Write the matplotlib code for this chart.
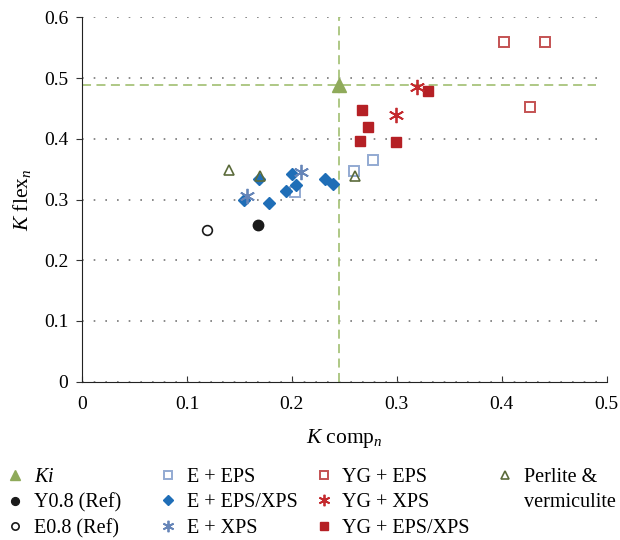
import matplotlib
matplotlib.use("Agg")
import matplotlib.pyplot as plt
from matplotlib.lines import Line2D

plt.rcParams['font.family'] = ['Liberation Serif', 'DejaVu Serif']
plt.rcParams['mathtext.fontset'] = 'custom'
plt.rcParams['mathtext.rm'] = 'Liberation Serif'
plt.rcParams['mathtext.it'] = 'Liberation Serif:italic'

# ---- data ----
ki_x = [0.245]
ki_y = [0.489]
y08_x = [0.168]
y08_y = [0.258]
e08_x = [0.119]
e08_y = [0.249]
e_eps_x = [0.203, 0.259, 0.277]
e_eps_y = [0.312, 0.347, 0.365]
e_epsxps_x = [0.154, 0.169, 0.178, 0.194, 0.200, 0.204, 0.232, 0.239]
e_epsxps_y = [0.299, 0.333, 0.295, 0.314, 0.342, 0.324, 0.334, 0.325]
e_xps_x = [0.157, 0.209]
e_xps_y = [0.305, 0.345]
yg_eps_x = [0.402, 0.441, 0.427]
yg_eps_y = [0.560, 0.560, 0.452]
yg_xps_x = [0.319, 0.299]
yg_xps_y = [0.485, 0.439]
yg_epsxps_x = [0.267, 0.273, 0.265, 0.299, 0.330]
yg_epsxps_y = [0.447, 0.419, 0.396, 0.394, 0.478]
perl_x = [0.140, 0.170, 0.260]
perl_y = [0.349, 0.339, 0.339]

x_ticks = [0, 0.1, 0.2, 0.3, 0.4, 0.5]
x_ticklabels = ['0', '0.1', '0.2', '0.3', '0.4', '0.5']
y_ticks = [0, 0.1, 0.2, 0.3, 0.4, 0.5, 0.6]
y_ticklabels = ['0', '0.1', '0.2', '0.3', '0.4', '0.5', '0.6']

fig = plt.figure(figsize=(6.2, 5.4), dpi=100)
ax = fig.add_axes([0.1323, 0.2931, 0.8462, 0.6749])

green = '#8FAA5A'
gline = '#A8C47C'
ax.axvline(ki_x[0], color=gline, lw=1.3, ls=(0, (5, 3)), zorder=1)
ax.plot([0, 0.49], [ki_y[0], ki_y[0]], color=gline, lw=1.3, ls=(0, (5, 3)), zorder=1)

handles = []
h = ax.plot(ki_x, ki_y, ls='none', marker='^', ms=10, color=green, mec=green, label='$Ki$', zorder=5)[0]; handles.append(h)
h = ax.plot(y08_x, y08_y, ls='none', marker='o', ms=7.5, color='#1a1a1a', label='Y0.8 (Ref)', zorder=5)[0]; handles.append(h)
h = ax.plot(e08_x, e08_y, ls='none', marker='o', ms=7, mfc='white', mec='#1a1a1a', mew=1.2, label='E0.8 (Ref)', zorder=5)[0]; handles.append(h)
h = ax.plot(e_eps_x, e_eps_y, ls='none', marker='s', ms=7.5, mfc='none', mec='#93AAD2', mew=1.4, label='E + EPS', zorder=4)[0]; handles.append(h)
h = ax.plot(e_epsxps_x, e_epsxps_y, ls='none', marker='D', ms=6.5, color='#1F6EB7', label='E + EPS/XPS', zorder=4)[0]; handles.append(h)
h = ax.plot(e_xps_x, e_xps_y, ls='none', marker=(6, 2, 0), ms=11, mec='#6685B8', mew=1.3, label='E + XPS', zorder=5)[0]; handles.append(h)
h = ax.plot(yg_eps_x, yg_eps_y, ls='none', marker='s', ms=7.5, mfc='none', mec='#C45253', mew=1.4, label='YG + EPS', zorder=4)[0]; handles.append(h)
h = ax.plot(yg_xps_x, yg_xps_y, ls='none', marker=(6, 2, 0), ms=11, mec='#C42A2E', mew=1.3, label='YG + XPS', zorder=5)[0]; handles.append(h)
h = ax.plot(yg_epsxps_x, yg_epsxps_y, ls='none', marker='s', ms=7, color='#B52025', label='YG + EPS/XPS', zorder=4)[0]; handles.append(h)
h = ax.plot(perl_x, perl_y, ls='none', marker='^', ms=7.5, mfc='none', mec='#5B6B3B', mew=1.2, label='Perlite &', zorder=6)[0]; handles.append(h)

ax.set_xlim(0, 0.5)
ax.set_ylim(0, 0.6)
ax.set_xticks(x_ticks)
ax.set_xticklabels(x_ticklabels)
ax.set_yticks(y_ticks)
ax.set_yticklabels(y_ticklabels)
ax.tick_params(axis='x', direction='in', length=4, labelsize=14, pad=10, color='#333333')
ax.tick_params(axis='y', direction='out', length=4, labelsize=14, pad=6, color='#333333')
ax.spines['top'].set_visible(False)
ax.spines['right'].set_visible(False)
ax.spines['left'].set_color('#222222')
ax.spines['bottom'].set_color('#222222')
ax.yaxis.grid(True, color='#777777', ls=(0, (1, 6)), lw=1.2)
ax.set_axisbelow(True)

ax.set_xlabel('$K$ comp$_n$', fontsize=15.5, labelpad=10)
ax.set_ylabel('$K$ flex$_n$', fontsize=15.5, labelpad=8)

blank = Line2D([], [], ls='none', marker='')
groups = [
    (handles[0:3], [h.get_label() for h in handles[0:3]], 0.012),
    (handles[3:6], [h.get_label() for h in handles[3:6]], 0.258),
    (handles[6:9], [h.get_label() for h in handles[6:9]], 0.509),
    ([handles[9], blank], ['Perlite &', 'vermiculite'], 0.802),
]
for hs, labs, xpos in groups:
    lg = fig.legend(hs, labs, loc='upper left', bbox_to_anchor=(xpos, 0.133),
                    ncol=1, frameon=False, fontsize=14.5, markerscale=0.75,
                    handlelength=0.8, handletextpad=0.52,
                    labelspacing=0.3, borderaxespad=0.0, borderpad=0.0)

fig.savefig('out.png', dpi=100)
